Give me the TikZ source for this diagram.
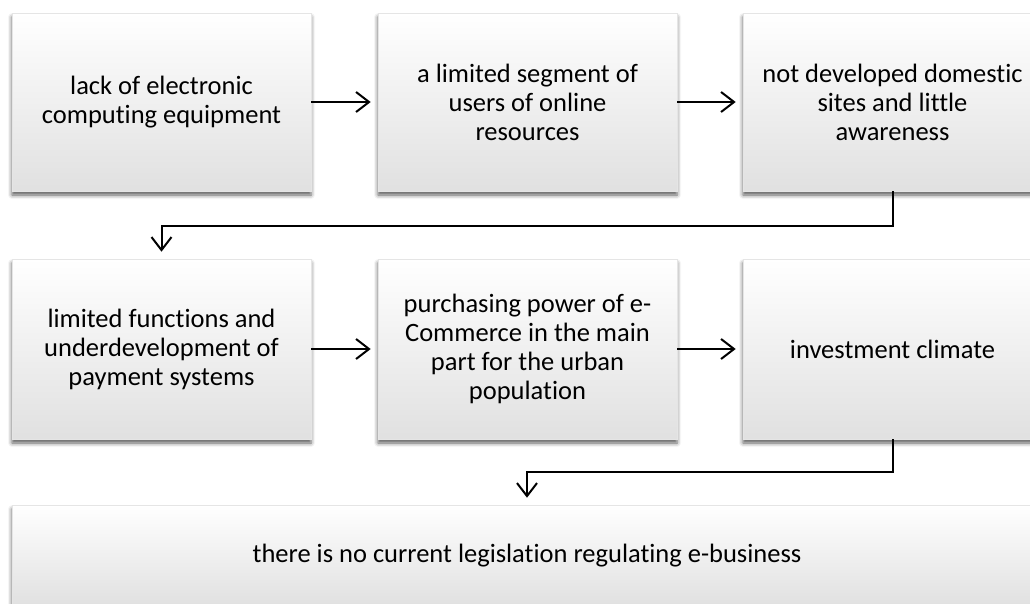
\documentclass[tikz,border=0pt]{standalone}
\usepackage{fontspec}
\setmainfont{Carlito}[Ligatures=NoCommon]
\usetikzlibrary{arrows.meta, positioning, shadows.blur}

\begin{document}
\begin{tikzpicture}[
        x=1pt, y=-1pt,
        every node/.style={font=\fontsize{26.5}{29}\selectfont},
        stage/.style={rectangle, draw=black!10, line width=0.6pt,
          top color=white, middle color=white, bottom color=black!12,
          minimum width=299pt, minimum height=178pt, inner sep=0pt,
          align=center,
          blur shadow={shadow xshift=0pt, shadow yshift=-4pt,
            shadow blur radius=4pt, shadow opacity=65}},
        flow/.style={-{Straight Barb[length=13pt,width=20pt]},
          line width=2pt, shorten >=7pt}
      ]
      \useasboundingbox (0,0) rectangle (1030,603);

      % First row
      \node[stage] (b1) at (161.5,102) {lack of electronic\\computing equipment};
      \node[stage] (b2) at (527.5,102) {a limited segment of\\users of online\\resources};
      \node[stage] (b3) at (892.5,102) {not developed domestic\\sites and little\\awareness};
      \draw[flow] (b1) -- (b2);
      \draw[flow] (b2) -- (b3);

      % Second row
      \node[stage,minimum height=180pt] (b4) at (161.5,349) {limited functions and\\underdevelopment of\\payment systems};
      \node[stage,minimum height=180pt] (b5) at (527.5,349) {purchasing power of e-\\Commerce in the main\\part for the urban\\population};
      \node[stage,minimum height=180pt] (b6) at (892.5,349) {investment climate};
      \draw[flow] (b4) -- (b5);
      \draw[flow] (b5) -- (b6);

      % elbow links between rows
      \draw[flow] (b3.south) -- ++(0,35) -| (b4.north);

      % last (wide) box
      \node[stage,minimum width=1030pt,minimum height=101pt] (b7) at (527,555.5) {there is no current legislation regulating e-business};
      \draw[flow] (b6.south) -- ++(0,33) -| (b7.north);
    \end{tikzpicture}
\end{document}
